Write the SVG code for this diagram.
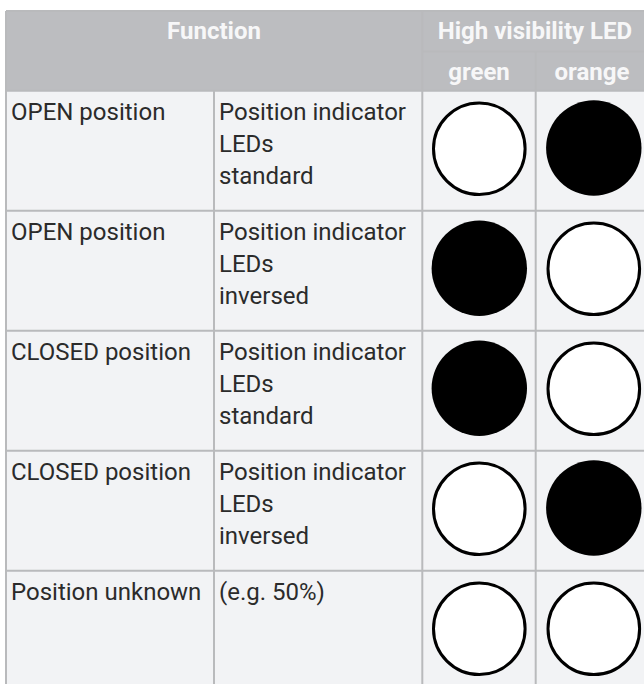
<svg xmlns="http://www.w3.org/2000/svg" width="644" height="684" viewBox="0 0 644 684">
<style>
.hdr{fill:#bcbdc0}
.cell{fill:#f2f3f5}
.ht{font-family:Roboto,"Liberation Sans",sans-serif;font-weight:bold;font-size:24px;fill:#f7f7f8;text-anchor:middle}
.bt{font-family:Roboto,"Liberation Sans",sans-serif;font-size:24px;fill:#2b2b2b}
.grid{stroke:#b9babc;stroke-width:2;fill:none}
.on{fill:#000}
.off{fill:#fff;stroke:#000;stroke-width:3}
</style>
<rect x="0" y="0" width="644" height="684" fill="#fff"/>
<g id="header">
<rect class="hdr" x="6" y="11" width="642" height="80"/>
<text class="ht" x="214" y="39">Function</text>
<text class="ht" x="535" y="39">High visibility LED</text>
<text class="ht" x="479" y="80">green</text>
<text class="ht" x="592" y="80">orange</text>
</g>
<rect class="cell" x="6" y="91" width="642" height="600"/>
<g id="row1">
<text class="bt" x="11" y="120">OPEN position</text>
<text class="bt" x="219" y="120">Position indicator</text>
<text class="bt" x="219" y="152">LEDs</text>
<text class="bt" x="219" y="184">standard</text>
<circle class="off" cx="479.3" cy="148.7" r="45.8"/>
<circle class="on" cx="593.8" cy="148" r="47.7"/>
</g>
<g id="row2">
<text class="bt" x="11" y="240">OPEN position</text>
<text class="bt" x="219" y="240">Position indicator</text>
<text class="bt" x="219" y="272">LEDs</text>
<text class="bt" x="219" y="304">inversed</text>
<circle class="on" cx="479.3" cy="268.3" r="47.7"/>
<circle class="off" cx="593.8" cy="268.7" r="45.8"/>
</g>
<g id="row3">
<text class="bt" x="11" y="360">CLOSED position</text>
<text class="bt" x="219" y="360">Position indicator</text>
<text class="bt" x="219" y="392">LEDs</text>
<text class="bt" x="219" y="424">standard</text>
<circle class="on" cx="479.3" cy="388.3" r="47.7"/>
<circle class="off" cx="593.8" cy="388.7" r="45.8"/>
</g>
<g id="row4">
<text class="bt" x="11" y="480">CLOSED position</text>
<text class="bt" x="219" y="480">Position indicator</text>
<text class="bt" x="219" y="512">LEDs</text>
<text class="bt" x="219" y="544">inversed</text>
<circle class="off" cx="479.3" cy="508.7" r="45.8"/>
<circle class="on" cx="593.8" cy="508" r="47.7"/>
</g>
<g id="row5">
<text class="bt" x="11" y="600">Position unknown</text>
<text class="bt" x="219" y="600">(e.g. 50%)</text>
<circle class="off" cx="479.3" cy="628.7" r="45.8"/>
<circle class="off" cx="593.8" cy="628.7" r="45.8"/>
</g>
<g id="grid" class="grid">
<line x1="6" y1="11" x2="648" y2="11"/>
<line x1="422" y1="51.5" x2="648" y2="51.5"/>
<line x1="6" y1="90.7" x2="648" y2="90.7"/>
<line x1="6" y1="210.7" x2="648" y2="210.7"/>
<line x1="6" y1="330.7" x2="648" y2="330.7"/>
<line x1="6" y1="450.7" x2="648" y2="450.7"/>
<line x1="6" y1="570.7" x2="648" y2="570.7"/>
<line x1="6" y1="11" x2="6" y2="690"/>
<line x1="214" y1="90.7" x2="214" y2="690"/>
<line x1="422.3" y1="11" x2="422.3" y2="690"/>
<line x1="535.7" y1="51.5" x2="535.7" y2="690"/>
</g>
</svg>
